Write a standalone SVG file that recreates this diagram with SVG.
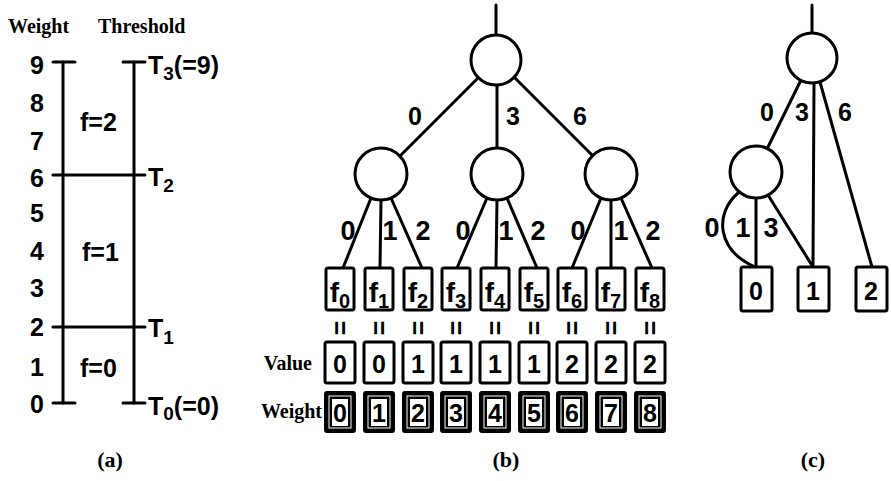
<svg xmlns="http://www.w3.org/2000/svg" width="891" height="481" viewBox="0 0 891 481">
<style>
  .ser{font-family:"Liberation Serif","Times New Roman",serif;font-weight:bold;fill:#000}
  .num{font-family:"Liberation Sans",Arial,sans-serif;font-weight:bold;font-size:25px;fill:#000}
  .mid{text-anchor:middle}
  .ln{stroke:#000;stroke-width:3;fill:none;stroke-linecap:round}
  .node{fill:#fff;stroke:#000;stroke-width:3}
  .box{fill:#fff;stroke:#000;stroke-width:3}
  .wbox{fill:#000;stroke:#000;stroke-width:2}
  .wframe{fill:none;stroke:#fff;stroke-width:1}
  .winner{fill:#fff}
  .fl{font-size:28px}
  .sub{font-size:20px}
</style>
<rect width="891" height="481" fill="#fff"/>

<!-- (a) -->
<g id="part-a">
  <text class="ser" x="8" y="33" font-size="20">Weight</text>
  <text class="ser" x="98" y="33" font-size="20">Threshold</text>
  <g class="num mid">
    <text x="37" y="74">9</text>
    <text x="37" y="112">8</text>
    <text x="37" y="150">7</text>
    <text x="37" y="187">6</text>
    <text x="37" y="222">5</text>
    <text x="37" y="260">4</text>
    <text x="37" y="297">3</text>
    <text x="37" y="336">2</text>
    <text x="37" y="376">1</text>
    <text x="37" y="413">0</text>
  </g>
  <g class="ln">
    <line x1="63" y1="62" x2="63" y2="403"/>
    <line x1="53" y1="62" x2="75" y2="62"/>
    <line x1="53" y1="403" x2="75" y2="403"/>
    <line x1="134" y1="62" x2="134" y2="403"/>
    <line x1="123" y1="62" x2="145" y2="62"/>
    <line x1="123" y1="403" x2="145" y2="403"/>
    <line x1="53" y1="175" x2="145" y2="175"/>
    <line x1="53" y1="327" x2="145" y2="327"/>
  </g>
  <g class="num">
    <text x="80" y="131">f=2</text>
    <text x="82" y="261">f=1</text>
    <text x="80" y="377">f=0</text>
    <text x="148" y="74">T<tspan font-size="19" dy="6">3</tspan><tspan dy="-6">(=9)</tspan></text>
    <text x="148" y="186">T<tspan font-size="19" dy="6">2</tspan></text>
    <text x="148" y="337">T<tspan font-size="19" dy="7">1</tspan></text>
    <text x="148" y="415">T<tspan font-size="19" dy="5">0</tspan><tspan dy="-5">(=0)</tspan></text>
  </g>
  <text class="ser mid" x="110" y="467" font-size="22">(a)</text>
</g>

<!-- (b) connectors -->
<g id="connectors-b" class="ln">
  <line x1="496" y1="5" x2="496" y2="35"/>
  <line x1="478" y1="78" x2="400" y2="156"/>
  <line x1="497" y1="85" x2="497" y2="148"/>
  <line x1="515" y1="78" x2="593" y2="156"/>
  <line x1="371" y1="198" x2="343" y2="268"/>
  <line x1="381" y1="200" x2="380" y2="268"/>
  <line x1="391" y1="198" x2="422" y2="268"/>
  <line x1="487" y1="198" x2="457" y2="268"/>
  <line x1="497" y1="200" x2="496" y2="268"/>
  <line x1="507" y1="198" x2="537" y2="268"/>
  <line x1="601" y1="198" x2="572" y2="268"/>
  <line x1="611" y1="200" x2="611" y2="268"/>
  <line x1="621" y1="198" x2="652" y2="268"/>
</g>
<g id="edge-labels-b" class="num mid">
  <text x="415" y="125">0</text>
  <text x="513" y="125">3</text>
  <text x="580" y="125">6</text>
  <text x="348" y="240" font-size="27">0</text>
  <text x="390" y="240" font-size="27">1</text>
  <text x="423" y="240" font-size="27">2</text>
  <text x="463" y="240" font-size="27">0</text>
  <text x="506" y="240" font-size="27">1</text>
  <text x="538" y="240" font-size="27">2</text>
  <text x="578" y="240" font-size="27">0</text>
  <text x="621" y="240" font-size="27">1</text>
  <text x="653" y="240" font-size="27">2</text>
</g>
<g id="b-root"><circle class="node" cx="496" cy="60" r="25"/></g>
<g id="b-n0"><circle class="node" cx="381" cy="174" r="26"/></g>
<g id="b-n1"><circle class="node" cx="497" cy="174" r="26"/></g>
<g id="b-n2"><circle class="node" cx="611" cy="174" r="26"/></g>

<g id="b-leaves">
  <g id="leaf-f0"><rect class="box" x="326" y="268" width="28" height="42" rx="2"/><text class="num mid fl" x="340" y="302">f<tspan class="sub" dy="6">0</tspan></text></g>
  <g id="leaf-f1"><rect class="box" x="365" y="268" width="28" height="42" rx="2"/><text class="num mid fl" x="379" y="302">f<tspan class="sub" dy="6">1</tspan></text></g>
  <g id="leaf-f2"><rect class="box" x="404" y="268" width="28" height="42" rx="2"/><text class="num mid fl" x="418" y="302">f<tspan class="sub" dy="6">2</tspan></text></g>
  <g id="leaf-f3"><rect class="box" x="442" y="268" width="28" height="42" rx="2"/><text class="num mid fl" x="456" y="302">f<tspan class="sub" dy="6">3</tspan></text></g>
  <g id="leaf-f4"><rect class="box" x="481" y="268" width="28" height="42" rx="2"/><text class="num mid fl" x="495" y="302">f<tspan class="sub" dy="6">4</tspan></text></g>
  <g id="leaf-f5"><rect class="box" x="520" y="268" width="28" height="42" rx="2"/><text class="num mid fl" x="534" y="302">f<tspan class="sub" dy="6">5</tspan></text></g>
  <g id="leaf-f6"><rect class="box" x="558" y="268" width="28" height="42" rx="2"/><text class="num mid fl" x="572" y="302">f<tspan class="sub" dy="6">6</tspan></text></g>
  <g id="leaf-f7"><rect class="box" x="597" y="268" width="28" height="42" rx="2"/><text class="num mid fl" x="611" y="302">f<tspan class="sub" dy="6">7</tspan></text></g>
  <g id="leaf-f8"><rect class="box" x="636" y="268" width="28" height="42" rx="2"/><text class="num mid fl" x="650" y="302">f<tspan class="sub" dy="6">8</tspan></text></g>
</g>

<g id="equals" class="num mid" font-size="26">
  <text transform="translate(340,328) rotate(90)" x="0" y="9">=</text>
  <text transform="translate(379,328) rotate(90)" x="0" y="9">=</text>
  <text transform="translate(418,328) rotate(90)" x="0" y="9">=</text>
  <text transform="translate(456,328) rotate(90)" x="0" y="9">=</text>
  <text transform="translate(495,328) rotate(90)" x="0" y="9">=</text>
  <text transform="translate(534,328) rotate(90)" x="0" y="9">=</text>
  <text transform="translate(572,328) rotate(90)" x="0" y="9">=</text>
  <text transform="translate(611,328) rotate(90)" x="0" y="9">=</text>
  <text transform="translate(650,328) rotate(90)" x="0" y="9">=</text>
</g>

<g id="value-row">
  <text class="ser" x="312" y="370" font-size="20" text-anchor="end">Value</text>
  <g class="box">
    <rect x="325" y="342" width="30" height="41" rx="2"/>
    <rect x="364" y="342" width="30" height="41" rx="2"/>
    <rect x="403" y="342" width="30" height="41" rx="2"/>
    <rect x="441" y="342" width="30" height="41" rx="2"/>
    <rect x="480" y="342" width="30" height="41" rx="2"/>
    <rect x="519" y="342" width="30" height="41" rx="2"/>
    <rect x="557" y="342" width="30" height="41" rx="2"/>
    <rect x="596" y="342" width="30" height="41" rx="2"/>
    <rect x="635" y="342" width="30" height="41" rx="2"/>
  </g>
  <g class="num mid" font-size="29">
    <text x="340" y="373">0</text>
    <text x="379" y="373">0</text>
    <text x="418" y="373">1</text>
    <text x="456" y="373">1</text>
    <text x="495" y="373">1</text>
    <text x="534" y="373">1</text>
    <text x="572" y="373">2</text>
    <text x="611" y="373">2</text>
    <text x="650" y="373">2</text>
  </g>
</g>

<g id="weight-row">
  <text class="ser" x="322" y="418" font-size="20" text-anchor="end">Weight</text>
  <g class="wbox">
    <rect x="325" y="392" width="30" height="40" rx="2"/>
    <rect x="364" y="392" width="30" height="40" rx="2"/>
    <rect x="403" y="392" width="30" height="40" rx="2"/>
    <rect x="441" y="392" width="30" height="40" rx="2"/>
    <rect x="480" y="392" width="30" height="40" rx="2"/>
    <rect x="519" y="392" width="30" height="40" rx="2"/>
    <rect x="557" y="392" width="30" height="40" rx="2"/>
    <rect x="596" y="392" width="30" height="40" rx="2"/>
    <rect x="635" y="392" width="30" height="40" rx="2"/>
  </g>
  <g class="wframe">
    <rect x="329" y="396" width="22" height="32"/>
    <rect x="368" y="396" width="22" height="32"/>
    <rect x="407" y="396" width="22" height="32"/>
    <rect x="445" y="396" width="22" height="32"/>
    <rect x="484" y="396" width="22" height="32"/>
    <rect x="523" y="396" width="22" height="32"/>
    <rect x="561" y="396" width="22" height="32"/>
    <rect x="600" y="396" width="22" height="32"/>
    <rect x="639" y="396" width="22" height="32"/>
  </g>
  <g class="winner">
    <rect x="332" y="399" width="16" height="27"/>
    <rect x="371" y="399" width="16" height="27"/>
    <rect x="410" y="399" width="16" height="27"/>
    <rect x="448" y="399" width="16" height="27"/>
    <rect x="487" y="399" width="16" height="27"/>
    <rect x="526" y="399" width="16" height="27"/>
    <rect x="564" y="399" width="16" height="27"/>
    <rect x="603" y="399" width="16" height="27"/>
    <rect x="642" y="399" width="16" height="27"/>
  </g>
  <g class="num mid" font-size="28">
    <text x="340" y="422">0</text>
    <text x="379" y="422">1</text>
    <text x="418" y="422">2</text>
    <text x="456" y="422">3</text>
    <text x="495" y="422">4</text>
    <text x="534" y="422">5</text>
    <text x="572" y="422">6</text>
    <text x="611" y="422">7</text>
    <text x="650" y="422">8</text>
  </g>
</g>
<text class="ser mid" x="506" y="467" font-size="22">(b)</text>

<!-- (c) -->
<g id="connectors-c" class="ln">
  <line x1="812" y1="5" x2="812" y2="33"/>
  <line x1="801" y1="80" x2="767" y2="149"/>
  <line x1="814" y1="83" x2="813" y2="267"/>
  <line x1="820" y1="82" x2="872" y2="267"/>
  <path d="M738 193 C714 214 717 250 755 267"/>
  <line x1="756" y1="198" x2="756" y2="267"/>
  <line x1="768" y1="195" x2="813" y2="267"/>
</g>
<g id="edge-labels-c" class="num mid">
  <text x="767" y="121">0</text>
  <text x="802" y="121">3</text>
  <text x="845" y="121">6</text>
  <text x="712" y="237" font-size="27">0</text>
  <text x="743" y="237" font-size="27">1</text>
  <text x="771" y="237" font-size="27">3</text>
</g>
<g id="c-root"><circle class="node" cx="812" cy="58" r="25"/></g>
<g id="c-n0"><circle class="node" cx="756" cy="172" r="26"/></g>
<g id="c-leaf0"><rect class="box" x="741" y="267" width="31" height="44" rx="2"/><text class="num mid" x="756" y="300" font-size="29">0</text></g>
<g id="c-leaf1"><rect class="box" x="798" y="267" width="31" height="44" rx="2"/><text class="num mid" x="813" y="300" font-size="29">1</text></g>
<g id="c-leaf2"><rect class="box" x="856" y="267" width="31" height="44" rx="2"/><text class="num mid" x="871" y="300" font-size="29">2</text></g>
<text class="ser mid" x="813" y="467" font-size="22">(c)</text>
</svg>
